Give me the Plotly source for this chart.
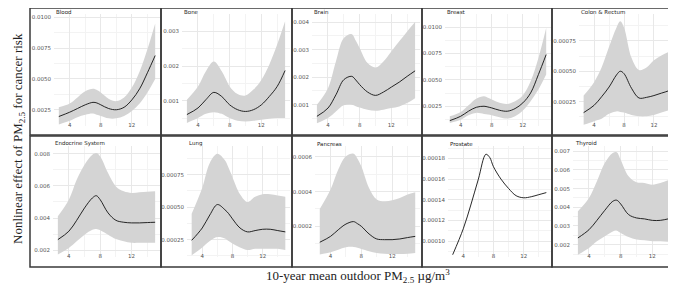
import plotly.graph_objects as go

W, H = 676, 285

# ---------------- data ----------------
X = [2.6, 4, 5, 6, 7, 7.5, 8, 9, 10, 11, 12, 13, 14, 15]
x_ticks = [4, 8, 12]

panel_names = ["Blood", "Bone", "Brain", "Breast", "Colon & Rectum",
               "Endocrine System", "Lung", "Pancreas", "Prostate", "Thyroid"]

blood_fit = [0.00195, 0.0023, 0.0026, 0.0029, 0.0031, 0.00305, 0.0029, 0.0026, 0.0025, 0.0027, 0.0033, 0.0042, 0.0055, 0.0069]
blood_lo = [0.0013, 0.0016, 0.0019, 0.0021, 0.0022, 0.0021, 0.0020, 0.0018, 0.0018, 0.0020, 0.0024, 0.0030, 0.0039, 0.0050]
blood_hi = [0.0027, 0.0030, 0.0035, 0.0040, 0.0042, 0.0041, 0.0039, 0.0034, 0.0032, 0.0035, 0.0043, 0.0056, 0.0074, 0.0095]

bone_fit = [0.0006, 0.00079, 0.00103, 0.00124, 0.00112, 0.001, 0.00088, 0.00074, 0.00069, 0.00074, 0.00088, 0.00112, 0.00141, 0.00187]
bone_lo = [0.00036, 0.0005, 0.00062, 0.00067, 0.00062, 0.00056, 0.0005, 0.00042, 0.0004, 0.00042, 0.00045, 0.00048, 0.0005, 0.0005]
bone_hi = [0.00103, 0.00141, 0.00185, 0.00213, 0.00185, 0.00163, 0.00141, 0.00119, 0.00115, 0.00132, 0.0016, 0.00204, 0.00262, 0.00329]

brain_fit = [0.00058, 0.00088, 0.00136, 0.00191, 0.00203, 0.0019, 0.00173, 0.00146, 0.00134, 0.00146, 0.00164, 0.00182, 0.00203, 0.00223]
brain_lo = [0.00033, 0.00052, 0.00076, 0.00098, 0.001, 0.00095, 0.0009, 0.00082, 0.00078, 0.00082, 0.00088, 0.00094, 0.00106, 0.00124]
brain_hi = [0.001, 0.0016, 0.00257, 0.00342, 0.00356, 0.00333, 0.00306, 0.00251, 0.00235, 0.00257, 0.00293, 0.0033, 0.00366, 0.004]

breast_fit = [0.00114, 0.00155, 0.00203, 0.0024, 0.0025, 0.00243, 0.00234, 0.00212, 0.00203, 0.00228, 0.00282, 0.00376, 0.0055, 0.00739]
breast_lo = [0.00092, 0.00121, 0.00165, 0.00187, 0.00177, 0.00172, 0.00165, 0.00146, 0.00133, 0.00155, 0.00209, 0.00297, 0.00408, 0.0055]
breast_hi = [0.00155, 0.00196, 0.00259, 0.00322, 0.00345, 0.0033, 0.00313, 0.00282, 0.00272, 0.00297, 0.00354, 0.00486, 0.00707, 0.0099]

colon_fit = [0.00016, 0.00022, 0.00029, 0.00037, 0.00047, 0.0005, 0.00048, 0.00036, 0.00028, 0.000285, 0.0003, 0.00032, 0.00034, 0.00037]
colon_lo = [0.00006, 0.00009, 0.00011, 0.00015, 0.00017, 0.000165, 0.00016, 0.00014, 0.00013, 0.00013, 0.00014, 0.00016, 0.00018, 0.0002]
colon_hi = [0.0003, 0.00041, 0.00053, 0.0007, 0.00086, 0.00091, 0.00086, 0.00061, 0.00051, 0.00053, 0.00059, 0.00063, 0.00066, 0.0007]

endo_fit = [0.00266, 0.00318, 0.00386, 0.00463, 0.00525, 0.00539, 0.00514, 0.00432, 0.00386, 0.00374, 0.0037, 0.0037, 0.00372, 0.00374]
endo_lo = [0.00173, 0.00214, 0.00256, 0.00297, 0.00328, 0.00332, 0.00324, 0.00297, 0.0027, 0.00256, 0.00246, 0.00246, 0.00246, 0.00246]
endo_hi = [0.00411, 0.00514, 0.00638, 0.00732, 0.00794, 0.00804, 0.00783, 0.0068, 0.00597, 0.00566, 0.00556, 0.0056, 0.00564, 0.00566]

lung_fit = [0.000245, 0.00034, 0.00044, 0.00052, 0.00048, 0.00045, 0.00041, 0.00034, 0.00031, 0.00032, 0.00033, 0.00033, 0.00032, 0.00031]
lung_lo = [0.00013, 0.00019, 0.00024, 0.00027, 0.00026, 0.00024, 0.00022, 0.00019, 0.00017, 0.00018, 0.00018, 0.00018, 0.00018, 0.00017]
lung_hi = [0.00045, 0.00065, 0.00084, 0.00091, 0.00086, 0.0008, 0.00073, 0.0006, 0.00054, 0.00058, 0.0006, 0.0006, 0.00059, 0.00058]

panc_fit = [0.000108, 0.000142, 0.00018, 0.000213, 0.000227, 0.000215, 0.0002, 0.000156, 0.000127, 0.000123, 0.000123, 0.000127, 0.000135, 0.000142]
panc_lo = [0.000037, 0.00005, 0.000065, 0.000079, 0.000081, 0.000076, 0.000069, 0.000056, 0.000046, 0.000042, 0.00004, 0.00004, 0.000042, 0.000046]
panc_hi = [0.0003, 0.000412, 0.000527, 0.000604, 0.000619, 0.00059, 0.000546, 0.000421, 0.000354, 0.000344, 0.00035, 0.000363, 0.000383, 0.000396]

prost_fit = [0.000087, 0.000112, 0.000135, 0.00016, 0.000184, 0.000181, 0.000172, 0.00016, 0.000151, 0.000144, 0.000142, 0.000143, 0.000145, 0.000147]

thy_fit = [0.00236, 0.0028, 0.0033, 0.00384, 0.00432, 0.00438, 0.00418, 0.00361, 0.00343, 0.00338, 0.0033, 0.0033, 0.00338, 0.00346]
thy_lo = [0.00146, 0.00182, 0.00218, 0.00245, 0.00271, 0.00275, 0.00263, 0.00241, 0.00227, 0.00223, 0.00218, 0.00218, 0.00216, 0.00214]
thy_hi = [0.00379, 0.0045, 0.00539, 0.00638, 0.00691, 0.00695, 0.00655, 0.00566, 0.00534, 0.0053, 0.00521, 0.0053, 0.00545, 0.00557]

fits = [blood_fit, bone_fit, brain_fit, breast_fit, colon_fit,
        endo_fit, lung_fit, panc_fit, prost_fit, thy_fit]
los = [blood_lo, bone_lo, brain_lo, breast_lo, colon_lo,
       endo_lo, lung_lo, panc_lo, None, thy_lo]
his = [blood_hi, bone_hi, brain_hi, breast_hi, colon_hi,
       endo_hi, lung_hi, panc_hi, None, thy_hi]

y_tick_vals = [
    [0.0025, 0.005, 0.0075, 0.01],
    [0.001, 0.002, 0.003],
    [0.001, 0.002, 0.003, 0.004],
    [0.0025, 0.005, 0.0075, 0.01],
    [0.00025, 0.0005, 0.00075],
    [0.002, 0.004, 0.006, 0.008],
    [0.00025, 0.0005, 0.00075],
    [0.0002, 0.0004, 0.0006],
    [0.0001, 0.00012, 0.00014, 0.00016, 0.00018],
    [0.002, 0.003, 0.004, 0.005, 0.006, 0.007],
]
y_tick_fmt = [".4f", ".3f", ".3f", ".4f", ".5f", ".3f", ".5f", ".4f", ".5f", ".3f"]

# ---------------- layout geometry (pixels) ----------------
y_ranges = [
    [0.00118, 0.01027], [0.00027, 0.0035], [0.00023, 0.00429],
    [0.00063, 0.01123], [0.00005, 0.00097], [0.00158, 0.00848],
    [0.000117, 0.00097], [0.000023, 0.000663], [0.0000848, 0.000192],
    [0.00134, 0.00728],
]
plot_px_x = [[46, 152], [174, 282], [304, 412], [437, 543], [571, 673],
             [45, 152], [179, 282], [307, 412], [440, 543], [565, 673]]
row_px_y = [[6, 118], [138, 249]]
box_px_x = [[22, 153], [153, 284], [284, 414], [414, 544], [544, 674]]
box_px_y = [[0, 127], [128, 259]]

fig = go.Figure()
layout = dict(
    width=W, height=H, margin=dict(l=0, r=0, t=0, b=0),
    paper_bgcolor="white", plot_bgcolor="white", showlegend=False,
)
annotations = []
shapes = []

band_color = "#d4d4d4"
tick_font = dict(family="DejaVu Sans", size=5.5, color="#555555")

for i in range(10):
    row = i // 5
    sfx = "" if i == 0 else str(i + 1)
    xa, ya = "x" + sfx, "y" + sfx
    px0, px1 = plot_px_x[i]
    py0, py1 = row_px_y[row]
    if los[i] is not None:
        fig.add_trace(go.Scatter(x=X, y=los[i], mode="lines",
                                 line=dict(width=0, shape="spline", smoothing=1, color=band_color),
                                 xaxis=xa, yaxis=ya, hoverinfo="skip"))
        fig.add_trace(go.Scatter(x=X, y=his[i], mode="lines", fill="tonexty",
                                 fillcolor=band_color,
                                 line=dict(width=0, shape="spline", smoothing=1, color=band_color),
                                 xaxis=xa, yaxis=ya, hoverinfo="skip"))
    fig.add_trace(go.Scatter(x=X, y=fits[i], mode="lines",
                             line=dict(width=0.9, color="#111111", shape="spline", smoothing=1),
                             xaxis=xa, yaxis=ya))
    step = y_tick_vals[i][1] - y_tick_vals[i][0]
    layout["xaxis" + sfx] = dict(
        domain=[px0 / W, px1 / W], range=[1.98, 15.62], anchor=ya,
        tickvals=x_ticks, tickfont=tick_font, showgrid=True, gridcolor="#e8e8e8",
        gridwidth=0.6, zeroline=False, showline=False, ticks="",
        ticklabelstandoff=-6,
        minor=dict(tickvals=[2, 6, 10, 14], showgrid=True, gridcolor="#f3f3f3", gridwidth=0.5),
        fixedrange=True,
    )
    layout["yaxis" + sfx] = dict(
        domain=[1 - py1 / H, 1 - py0 / H], range=y_ranges[i], anchor=xa,
        tickvals=y_tick_vals[i], tickformat=y_tick_fmt[i], tickfont=tick_font,
        showgrid=True, gridcolor="#e8e8e8", gridwidth=0.6, zeroline=False,
        showline=False, ticks="", ticklabelstandoff=2,
        minor=dict(tickvals=[v + step / 2 for v in [y_tick_vals[i][0] - step] + y_tick_vals[i]],
                   showgrid=True, gridcolor="#f3f3f3", gridwidth=0.5),
        fixedrange=True,
    )
    annotations.append(dict(
        text=panel_names[i], xref="paper", yref="paper",
        x=px0 / W, y=1 - (py0 - 2) / H, xanchor="left", yanchor="middle",
        showarrow=False, font=dict(family="DejaVu Sans", size=5.5, color="#222222"),
    ))

for r in range(2):
    for c in range(5):
        bx0, bx1 = box_px_x[c]
        by0, by1 = box_px_y[r]
        shapes.append(dict(type="rect", xref="paper", yref="paper",
                           x0=bx0 / W, x1=bx1 / W, y0=1 - by1 / H, y1=1 - by0 / H,
                           line=dict(color="#3a3a3a", width=1.5), fillcolor="rgba(0,0,0,0)"))

annotations.append(dict(
    text="10-year mean outdoor PM<sub>2.5</sub> µg/m<sup>3</sup>",
    xref="paper", yref="paper", x=350 / W, y=1 - 268 / H,
    xanchor="center", yanchor="middle", showarrow=False,
    font=dict(family="Liberation Serif", size=13, color="#222222"),
))
annotations.append(dict(
    text="Nonlinear effect of PM<sub>2.5</sub> for cancer risk",
    xref="paper", yref="paper", x=10 / W, y=1 - 131 / H, textangle=-90,
    xanchor="center", yanchor="middle", showarrow=False,
    font=dict(family="Liberation Serif", size=13, color="#222222"),
))

layout["annotations"] = annotations
layout["shapes"] = shapes
fig.update_layout(**layout)
fig.write_html("out.html")
